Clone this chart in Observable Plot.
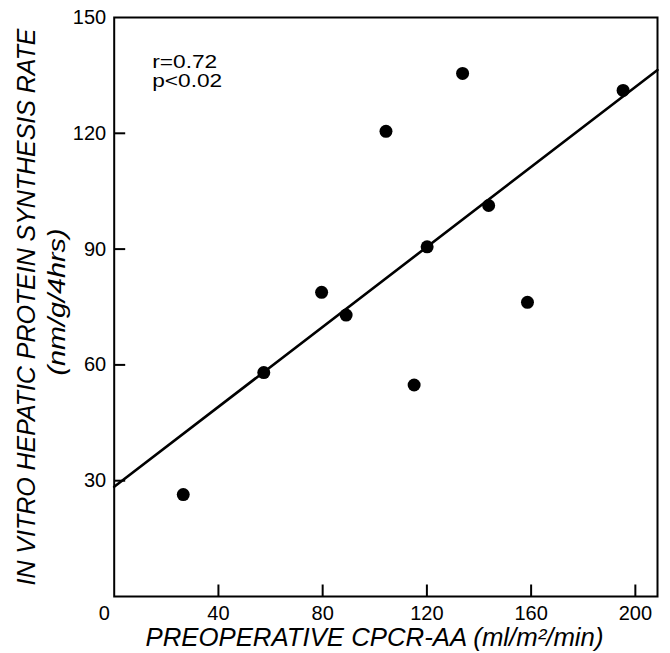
<!DOCTYPE html>
<html>
<head>
<meta charset="utf-8">
<script src="https://cdn.jsdelivr.net/npm/d3@7"></script>
<script src="https://cdn.jsdelivr.net/npm/@observablehq/plot@0.6"></script>
<style>
  html, body { margin: 0; padding: 0; background: #fff; }
</style>
</head>
<body>
<div id="chart"></div>
<script>
// Data
const cpcrAA = [26.5, 57.4, 79.6, 89.0, 104.3, 115.1, 120.1, 133.7, 143.7, 158.6, 195.3];
const synthesisRate = [26.4, 58.0, 78.8, 72.9, 120.5, 54.8, 90.6, 135.5, 101.3, 76.2, 131.1];
const xTicks = [40, 80, 120, 160, 200];
const xZeroTick = [0];
const yTicks = [30, 60, 90, 120, 150];
const xLabel = "PREOPERATIVE CPCR-AA (ml/m²/min)";
const yLabel = "IN VITRO HEPATIC PROTEIN SYNTHESIS RATE";
const yUnits = "(nm/g/4hrs)";
const statR = "r=0.72";
const statP = "p<0.02";

const points = cpcrAA.map((x, i) => ({x, y: synthesisRate[i]}));
const xDomain = [0, 208.5];
const yDomain = [0, 150];

// least-squares regression line computed from the points
const mx = d3.mean(cpcrAA), my = d3.mean(synthesisRate);
const sxy = d3.sum(points, p => (p.x - mx) * (p.y - my));
const sxx = d3.sum(points, p => (p.x - mx) ** 2);
const slope = sxy / sxx, intercept = my - slope * mx;
const fit = xDomain.map(x => ({x, y: intercept + slope * x}));

const W = 670, H = 653, ML = 113.7, MR = 13, MT = 17, MB = 57;
const frameW = W - ML - MR, frameH = H - MT - MB;
const innerYTicks = yTicks.filter(d => d < yDomain[1]);
// inward tick lengths (12px / 11px) expressed in scale units
const xTickLen = 12 * (yDomain[1] - yDomain[0]) / frameH;
const yTickLen = 11 * (xDomain[1] - xDomain[0]) / frameW;

const plot = Plot.plot({
  width: W,
  height: H,
  marginLeft: ML,
  marginRight: MR,
  marginTop: MT,
  marginBottom: MB,
  style: {fontFamily: "'Liberation Sans'", fontSize: "20px", background: "#fff"},
  x: {domain: xDomain, axis: null},
  y: {domain: yDomain, axis: null},
  marks: [
    Plot.frame({stroke: "#000", strokeWidth: 2}),
    Plot.axisX(xTicks, {tickSize: 0, tickPadding: 9, label: null, fontSize: 20, fill: "#000"}),
    Plot.axisX(xZeroTick, {tickSize: 0, tickPadding: 9, label: null, dx: -10, fontSize: 20, fill: "#000"}),
    Plot.axisY(yTicks, {tickSize: 0, tickPadding: 8, label: null, fontSize: 20, fill: "#000"}),
    Plot.link(xTicks, {x1: d => d, x2: d => d, y1: yDomain[0], y2: yDomain[0] + xTickLen, stroke: "#000", strokeWidth: 2}),
    Plot.link(innerYTicks, {y1: d => d, y2: d => d, x1: xDomain[0], x2: xDomain[0] + yTickLen, stroke: "#000", strokeWidth: 2}),
    Plot.line(fit, {x: "x", y: "y", stroke: "#000", strokeWidth: 2.6}),
    Plot.dot(points, {x: "x", y: "y", r: 6.5, fill: "#000", stroke: "none"}),
    Plot.text([statR], {frameAnchor: "top-left", dx: 38, dy: 45, textAnchor: "start", lineAnchor: "middle", fontSize: 18, fill: "#000"}),
    Plot.text([statP], {frameAnchor: "top-left", dx: 38, dy: 64, textAnchor: "start", lineAnchor: "middle", fontSize: 18, fill: "#000"}),
    Plot.text([xLabel], {frameAnchor: "bottom", dx: 145 - (ML + frameW / 2), dy: 41.5, textAnchor: "start", lineAnchor: "middle", fontSize: 26, fontStyle: "italic", fill: "#000"}),
    Plot.text([yLabel], {frameAnchor: "left", dx: -88, dy: 585 - (MT + frameH / 2), rotate: -90, textAnchor: "start", lineAnchor: "middle", fontSize: 26, fontStyle: "italic", fill: "#000"}),
    Plot.text([yUnits], {frameAnchor: "left", dx: -57, dy: 375 - (MT + frameH / 2), rotate: -90, textAnchor: "start", lineAnchor: "middle", fontSize: 24, fontStyle: "italic", fill: "#000"})
  ]
});

const svg = d3.select(plot);
const fitLen = {[xLabel]: 458, [yLabel]: 557, [yUnits]: 147, [statR]: 65, [statP]: 70};
svg.selectAll("text").each(function() {
  const t = this.textContent;
  if (fitLen[t]) d3.select(this).attr("textLength", fitLen[t]).attr("lengthAdjust", "spacingAndGlyphs");
});

document.getElementById("chart").appendChild(plot);
</script>
</body>
</html>
